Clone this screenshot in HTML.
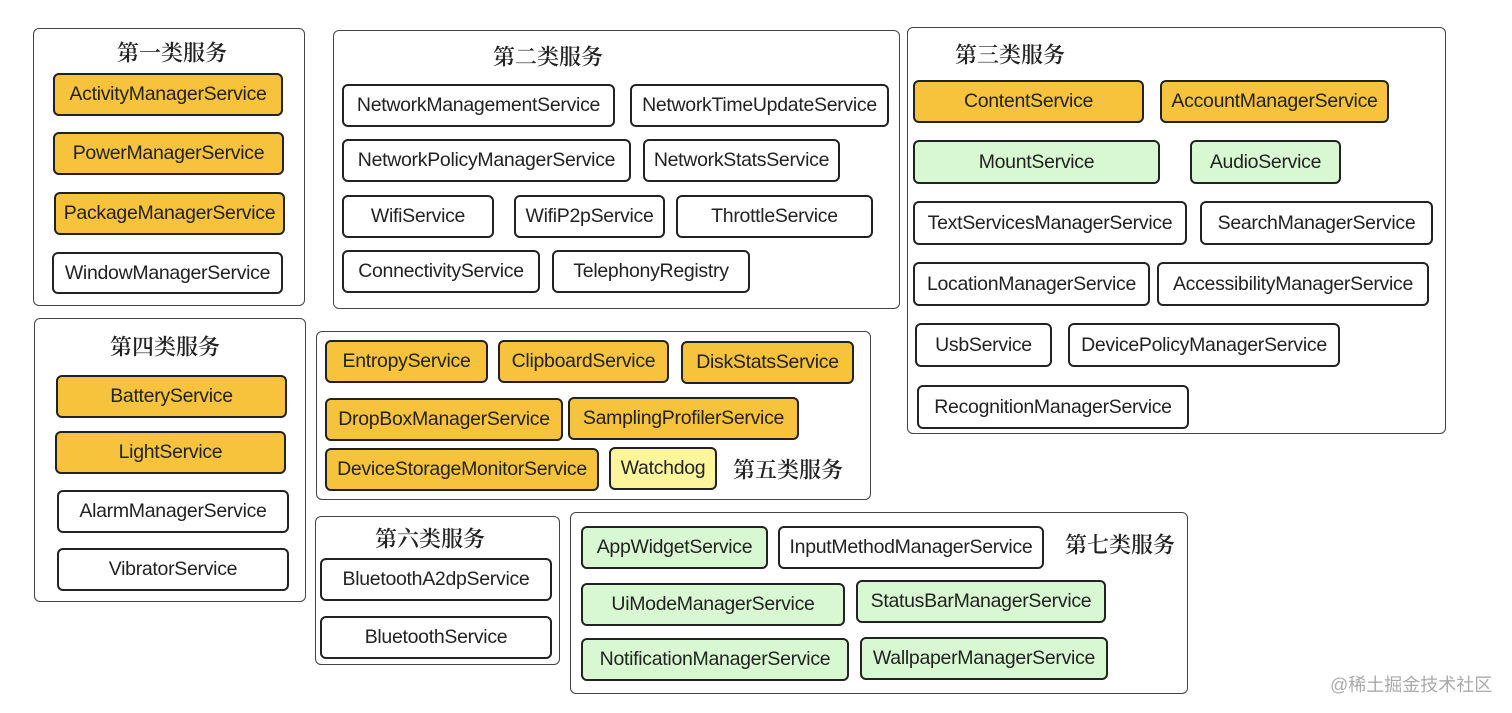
<!DOCTYPE html>
<html><head><meta charset="utf-8">
<style>
html,body{margin:0;padding:0;background:#fff;}
body{width:1512px;height:713px;position:relative;overflow:hidden;font-family:"Liberation Sans","Noto Sans CJK SC",sans-serif;}
.g{position:absolute;border:1.5px solid #444;border-radius:6px;background:#fff;box-sizing:border-box;}
.b{position:absolute;box-sizing:border-box;border:2.5px solid #222;border-radius:6px;background:#fff;font-size:19.5px;color:#222;display:flex;align-items:center;justify-content:center;white-space:nowrap;letter-spacing:-0.3px;}
.o{background:#f7c33c;}
.y{background:#fdf59b;}
.gr{background:#d8f8d2;}
.t{position:absolute;font-family:"Noto Serif CJK SC","Liberation Serif",serif;font-size:22px;font-weight:600;color:#222;white-space:nowrap;transform:translate(-50%,-50%);}
.wm{position:absolute;left:1330px;top:671px;font-size:18px;color:#aaa;font-family:"Liberation Sans","Noto Sans CJK SC",sans-serif;}
</style></head><body>
<div class="g" style="left:33px;top:28px;width:272px;height:278px"></div>
<div class="t" style="left:172px;top:52px">第一类服务</div>
<div class="b o" style="left:53px;top:73px;width:230px;height:43px">ActivityManagerService</div>
<div class="b o" style="left:53px;top:132px;width:231px;height:43px">PowerManagerService</div>
<div class="b o" style="left:54px;top:192px;width:231px;height:43px">PackageManagerService</div>
<div class="b" style="left:52px;top:252px;width:231px;height:42px">WindowManagerService</div>

<div class="g" style="left:333px;top:30px;width:567px;height:279px"></div>
<div class="t" style="left:548px;top:56px">第二类服务</div>
<div class="b" style="left:342px;top:84px;width:273px;height:43px">NetworkManagementService</div>
<div class="b" style="left:630px;top:84px;width:259px;height:43px">NetworkTimeUpdateService</div>
<div class="b" style="left:342px;top:139px;width:289px;height:43px">NetworkPolicyManagerService</div>
<div class="b" style="left:643px;top:139px;width:197px;height:43px">NetworkStatsService</div>
<div class="b" style="left:342px;top:195px;width:152px;height:43px">WifiService</div>
<div class="b" style="left:514px;top:195px;width:151px;height:43px">WifiP2pService</div>
<div class="b" style="left:676px;top:195px;width:197px;height:43px">ThrottleService</div>
<div class="b" style="left:342px;top:250px;width:198px;height:43px">ConnectivityService</div>
<div class="b" style="left:552px;top:250px;width:198px;height:43px">TelephonyRegistry</div>

<div class="g" style="left:907px;top:27px;width:539px;height:407px"></div>
<div class="t" style="left:1010px;top:54px">第三类服务</div>
<div class="b o" style="left:913px;top:80px;width:231px;height:43px">ContentService</div>
<div class="b o" style="left:1160px;top:80px;width:229px;height:43px">AccountManagerService</div>
<div class="b gr" style="left:913px;top:140px;width:247px;height:44px">MountService</div>
<div class="b gr" style="left:1190px;top:140px;width:151px;height:44px">AudioService</div>
<div class="b" style="left:913px;top:201px;width:274px;height:44px">TextServicesManagerService</div>
<div class="b" style="left:1200px;top:201px;width:233px;height:44px">SearchManagerService</div>
<div class="b" style="left:913px;top:262px;width:237px;height:44px">LocationManagerService</div>
<div class="b" style="left:1157px;top:262px;width:272px;height:44px">AccessibilityManagerService</div>
<div class="b" style="left:915px;top:323px;width:137px;height:44px">UsbService</div>
<div class="b" style="left:1068px;top:323px;width:272px;height:44px">DevicePolicyManagerService</div>
<div class="b" style="left:917px;top:385px;width:272px;height:44px">RecognitionManagerService</div>

<div class="g" style="left:34px;top:318px;width:272px;height:284px"></div>
<div class="t" style="left:165px;top:346px">第四类服务</div>
<div class="b o" style="left:56px;top:375px;width:231px;height:43px">BatteryService</div>
<div class="b o" style="left:55px;top:431px;width:231px;height:43px">LightService</div>
<div class="b" style="left:57px;top:490px;width:232px;height:43px">AlarmManagerService</div>
<div class="b" style="left:57px;top:548px;width:232px;height:43px">VibratorService</div>

<div class="g" style="left:316px;top:331px;width:555px;height:169px"></div>
<div class="b o" style="left:325px;top:340px;width:163px;height:43px">EntropyService</div>
<div class="b o" style="left:498px;top:340px;width:171px;height:43px">ClipboardService</div>
<div class="b o" style="left:681px;top:341px;width:173px;height:43px">DiskStatsService</div>
<div class="b o" style="left:325px;top:398px;width:238px;height:43px">DropBoxManagerService</div>
<div class="b o" style="left:568px;top:397px;width:231px;height:43px">SamplingProfilerService</div>
<div class="b o" style="left:325px;top:448px;width:274px;height:43px">DeviceStorageMonitorService</div>
<div class="b y" style="left:609px;top:447px;width:108px;height:43px">Watchdog</div>
<div class="t" style="left:788px;top:469px">第五类服务</div>

<div class="g" style="left:315px;top:516px;width:245px;height:149px"></div>
<div class="t" style="left:430px;top:538px">第六类服务</div>
<div class="b" style="left:320px;top:558px;width:232px;height:43px">BluetoothA2dpService</div>
<div class="b" style="left:320px;top:616px;width:232px;height:43px">BluetoothService</div>

<div class="g" style="left:570px;top:512px;width:618px;height:182px"></div>
<div class="t" style="left:1120px;top:544px">第七类服务</div>
<div class="b gr" style="left:581px;top:526px;width:187px;height:43px">AppWidgetService</div>
<div class="b" style="left:778px;top:526px;width:266px;height:43px">InputMethodManagerService</div>
<div class="b gr" style="left:581px;top:583px;width:264px;height:43px">UiModeManagerService</div>
<div class="b gr" style="left:856px;top:580px;width:250px;height:43px">StatusBarManagerService</div>
<div class="b gr" style="left:581px;top:638px;width:268px;height:43px">NotificationManagerService</div>
<div class="b gr" style="left:860px;top:637px;width:248px;height:43px">WallpaperManagerService</div>

<div class="wm">@稀土掘金技术社区</div>
</body></html>
